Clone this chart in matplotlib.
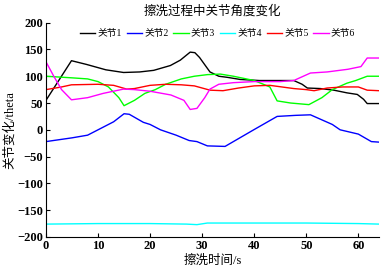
import numpy as np
import matplotlib.pyplot as plt

plt.rcParams['font.family'] = ['Liberation Serif', 'Noto Sans CJK SC']
plt.rcParams['axes.unicode_minus'] = True

# joint angle curves
t1 = [0, 4.9, 7.8, 11.5, 14.9, 18, 20.7, 23.9, 25.8, 27.7, 28.6, 29.5, 31.5, 33.2, 34.8, 37.3, 41, 47.6, 49.2, 50.2, 52.7, 55.3, 57.8, 59.8, 61, 61.7, 64]
j1 = [55, 129, 122, 112, 107, 108, 111, 120, 130, 145, 144, 135, 108, 100, 98, 94, 92, 92, 85, 78, 77, 74, 69, 66, 57, 49, 49]

t2 = [0, 5, 8, 10, 13, 15, 16, 18.7, 20, 22, 25, 27.5, 29, 31, 34.4, 39.9, 44.4, 48, 50.8, 55, 56.5, 60, 62.5, 64]
j2 = [-22, -15, -10, 0, 15, 30, 29, 14, 10, 0, -10, -20, -22, -30, -31, 0, 25, 27, 28, 10, 0, -8, -22, -23]

t3 = [0, 5, 8, 10, 12, 14, 15, 17, 19, 21, 23, 26, 28.5, 31, 33.5, 36, 40, 43, 44.4, 47, 50.5, 53, 55, 57.8, 59.5, 61.7, 64]
j3 = [100, 97, 95, 90, 80, 60, 45, 55, 68, 75, 85, 95, 100, 103, 104, 100, 92, 80, 54, 50, 47, 60, 75, 87, 92, 100, 100]

t4 = [0, 10, 20, 27, 29, 31, 35, 50, 60, 64]
j4 = [-176, -175, -175, -176, -177, -174, -174, -174, -175, -176]

t5 = [0, 3, 4.9, 10, 13, 15.5, 17, 20, 23, 26, 28.5, 31.5, 34, 37, 40, 43, 47.6, 50, 51.5, 54, 57, 60, 61.7, 64]
j5 = [75, 80, 84, 85, 83, 76, 77, 83, 85, 84, 82, 74, 73, 78, 82, 83, 77, 75, 73, 78, 80, 80, 74, 73]

t6 = [0, 1.5, 3, 4.9, 8, 11, 14.9, 17, 20, 24, 26.5, 27.7, 29, 30.5, 31.5, 33.2, 36, 40, 45, 47.6, 50.8, 54, 58, 60.5, 61.7, 64]
j6 = [127, 100, 75, 56, 60, 68, 76, 75, 72, 65, 55, 38, 40, 60, 76, 85, 88, 90, 90, 92, 106, 108, 113, 118, 134, 134]

fig = plt.figure(figsize=(3.83, 2.73), dpi=100)
ax = fig.add_axes([0.120, 0.132, 0.870, 0.785])

lw = 1.0
ax.plot(t1, j1, color='black', lw=lw, label='关节1')
ax.plot(t2, j2, color='#0000ff', lw=lw, label='关节2')
ax.plot(t3, j3, color='#00ff00', lw=lw, label='关节3')
ax.plot(t4, j4, color='#00ffff', lw=lw, label='关节4')
ax.plot(t5, j5, color='#ff0000', lw=lw, label='关节5')
ax.plot(t6, j6, color='#ff00ff', lw=lw, label='关节6')

ax.set_xlim(0, 64)
ax.set_ylim(-200, 200)
ax.set_xticks([0, 10, 20, 30, 40, 50, 60])
ax.set_yticks([-200, -150, -100, -50, 0, 50, 100, 150, 200])
for lab in ax.get_xticklabels() + ax.get_yticklabels():
    lab.set_fontweight('bold')
ax.tick_params(direction='in', length=3, width=0.8, labelsize=9, pad=2)
ax.spines['top'].set_visible(False)
ax.spines['right'].set_visible(False)

ax.set_title('擦洗过程中关节角度变化', fontsize=9, pad=6)
ax.set_xlabel('擦洗时间/s', fontsize=9, labelpad=2)
ax.set_ylabel('关节变化/theta', fontsize=9, labelpad=1)

ax.legend(loc='center', bbox_to_anchor=(0.515, 0.948), ncol=6, frameon=False,
          prop={'size': 7}, handlelength=1.6, handletextpad=0.2,
          columnspacing=0.5, borderaxespad=0, borderpad=0)

fig.savefig('out.png', dpi=100)
